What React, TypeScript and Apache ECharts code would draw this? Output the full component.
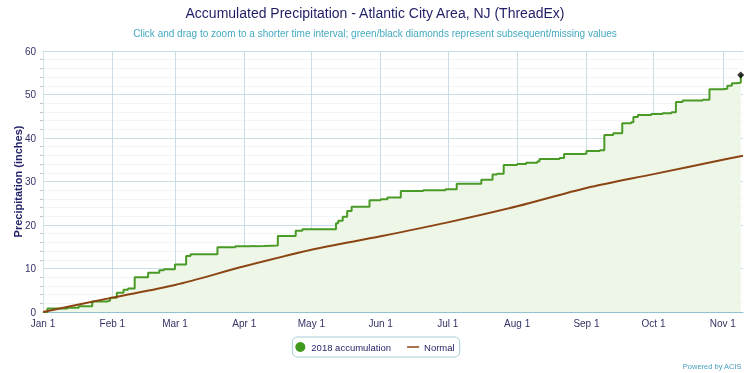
import React, { useEffect, useRef } from "react";
import * as echarts from "echarts";

// 2018 accumulation (inches), change points
const accDates = [
  "2018-01-01", "2018-01-03", "2018-01-12", "2018-01-17", "2018-01-23", "2018-01-30", "2018-01-31",
  "2018-02-03", "2018-02-06", "2018-02-08", "2018-02-11", "2018-02-17", "2018-02-22", "2018-02-24",
  "2018-03-01", "2018-03-06", "2018-03-08", "2018-03-20", "2018-03-28", "2018-04-03", "2018-04-10",
  "2018-04-16", "2018-04-24", "2018-04-27", "2018-05-12", "2018-05-13", "2018-05-15", "2018-05-17",
  "2018-05-19", "2018-05-27", "2018-06-01", "2018-06-04", "2018-06-10", "2018-06-20", "2018-06-30",
  "2018-07-05", "2018-07-16", "2018-07-21", "2018-07-23", "2018-07-26", "2018-08-01", "2018-08-05",
  "2018-08-10", "2018-08-11", "2018-08-20", "2018-08-22", "2018-08-31", "2018-09-01", "2018-09-07",
  "2018-09-09", "2018-09-13", "2018-09-17", "2018-09-21", "2018-09-22", "2018-09-24", "2018-09-30",
  "2018-10-05", "2018-10-09", "2018-10-11", "2018-10-14", "2018-10-23", "2018-10-26", "2018-11-01",
  "2018-11-03", "2018-11-05", "2018-11-07", "2018-11-09",
];
const accValues = [
  0.0, 0.8, 1.0, 1.3, 2.4, 2.6, 3.3,
  4.4, 5.1, 5.4, 8.0, 9.0, 9.6, 9.8,
  10.9, 12.9, 13.3, 14.9, 15.1, 15.2, 15.3,
  17.5, 18.7, 19.0, 20.4, 21.0, 21.9, 23.2,
  24.2, 25.7, 25.9, 26.3, 27.8, 28.0, 28.2,
  29.5, 30.4, 31.6, 31.8, 33.8, 34.0, 34.3,
  34.6, 35.2, 35.4, 36.3, 36.4, 37.0, 37.2,
  40.7, 41.1, 43.4, 43.6, 44.8, 45.3, 45.5,
  45.7, 45.9, 48.3, 48.6, 48.8, 51.2, 51.3,
  52.0, 52.6, 52.7, 54.5,
];

// Normal accumulation (inches)
const normalDates = [
  "2018-01-01", "2018-02-01", "2018-03-01", "2018-04-01", "2018-05-01", "2018-06-01",
  "2018-07-01", "2018-08-01", "2018-09-01", "2018-10-01", "2018-11-01", "2018-11-10",
];
const normalValues = [0, 3.3, 6.2, 10.5, 14.3, 17.4, 20.6, 24.3, 28.5, 31.7, 35.0, 35.9];

// X tick positions and labels
const monthTicks = [
  "2018-01-01", "2018-02-01", "2018-03-01", "2018-04-01", "2018-05-01", "2018-06-01",
  "2018-07-01", "2018-08-01", "2018-09-01", "2018-10-01", "2018-11-01",
];
const monthLabels = ["Jan 1", "Feb 1", "Mar 1", "Apr 1", "May 1", "Jun 1", "Jul 1", "Aug 1", "Sep 1", "Oct 1", "Nov 1"];
const xStart = "2018-01-01";
const xEnd = "2018-11-10";

const titleText = "Accumulated Precipitation - Atlantic City Area, NJ (ThreadEx)";
const subtitleText = "Click and drag to zoom to a shorter time interval; green/black diamonds represent subsequent/missing values";
const seriesNames = ["2018 accumulation", "Normal"];
const creditText = "Powered by ACIS";

const toTs = (s: string) => {
  const [y, m, d] = s.split("-").map(Number);
  return Date.UTC(y, m - 1, d);
};

export default function App() {
  const ref = useRef<HTMLDivElement>(null);
  useEffect(() => {
    if (!ref.current) return;
    const chart = echarts.init(ref.current, undefined, { renderer: "svg" });
    const font = "Liberation Sans";
    const navy = "#1f1f66";
    const tickTs = monthTicks.map(toTs);
    const accData = accDates.map((d, i) => [toTs(d), accValues[i]]);
    const normData = normalDates.map((d, i) => [toTs(d), normalValues[i]]);
    const last = accData[accData.length - 1];
    chart.setOption({
      animation: false,
      textStyle: { fontFamily: font },
      title: [
        {
          text: titleText,
          left: "center",
          top: 1,
          textStyle: { fontSize: 14, fontWeight: "normal", color: navy, fontFamily: font },
        },
        {
          text: subtitleText,
          left: "center",
          top: 23,
          textStyle: { fontSize: 10, fontWeight: "normal", color: "#45aac0", fontFamily: font },
        },
        {
          text: creditText,
          right: 3,
          top: 357,
          textStyle: { fontSize: 7.5, fontWeight: "normal", color: "#4a9fc0", fontFamily: font },
        },
      ],
      legend: {
        data: [
          { name: seriesNames[0], icon: "circle" },
          { name: seriesNames[1], icon: "path://M0,0L16,0L16,2L0,2Z" },
        ],
        left: "center",
        top: 337,
        itemWidth: 12,
        itemHeight: 10,
        itemGap: 16,
        padding: [5, 5, 5, 3],
        borderColor: "#a9ccd6",
        borderWidth: 1,
        borderRadius: 5,
        textStyle: { fontSize: 9.5, color: navy, fontFamily: font },
      },
      grid: { left: 43, right: 7, top: 51, bottom: 61, outerBoundsMode: "none", containLabel: false },
      xAxis: {
        type: "value",
        min: toTs(xStart),
        max: toTs(xEnd),
        axisLine: { show: true, onZero: false, lineStyle: { color: "#8fc3d1", width: 1 } },
        axisTick: { show: false, customValues: tickTs },
        axisLabel: {
          customValues: tickTs,
          color: "#333366",
          fontSize: 10,
          margin: 6,
          formatter: (v: number) => {
            const i = tickTs.indexOf(v);
            return i >= 0 ? monthLabels[i] : "";
          },
        },
        splitLine: { show: true, lineStyle: { color: "#c9dde4", width: 1 } },
      },
      yAxis: {
        type: "value",
        min: 0,
        max: 60,
        interval: 10,
        name: "Precipitation (inches)",
        nameLocation: "middle",
        nameGap: 20,
        nameMoveOverlap: false,
        nameTextStyle: { fontSize: 11, fontWeight: "bold", color: navy, fontFamily: font },
        axisLine: { show: true, lineStyle: { color: "#d5e3e8" } },
        axisTick: { show: false },
        minorTick: { show: true, splitNumber: 5, length: 3, lineStyle: { color: "#b8c4c8" } },
        minorSplitLine: { show: true, lineStyle: { color: "#f1f5f7" } },
        axisLabel: { color: "#333366", fontSize: 10, margin: 7 },
        splitLine: { show: true, lineStyle: { color: "#c9dde4", width: 1 } },
      },
      series: [
        {
          name: seriesNames[0],
          type: "line",
          step: "end",
          data: accData,
          symbol: "none",
          itemStyle: { color: "#3f9a1e" },
          lineStyle: { color: "#4a9a26", width: 2 },
          areaStyle: { color: "#eef6e8", opacity: 1 },
          z: 2,
        },
        {
          name: seriesNames[1],
          type: "line",
          data: normData,
          smooth: 0.3,
          symbol: "none",
          itemStyle: { color: "#8b4513" },
          lineStyle: { color: "#8b4513", width: 2 },
          z: 3,
        },
        {
          name: "missing",
          type: "scatter",
          data: [last],
          symbol: "diamond",
          symbolSize: 7,
          itemStyle: { color: "#000000" },
          z: 4,
        },
      ],
    });
    return () => chart.dispose();
  }, []);
  return (
    <div
      ref={ref}
      style={{ position: "fixed", left: 0, top: 0, width: 750, height: 373 }}
    />
  );
}
